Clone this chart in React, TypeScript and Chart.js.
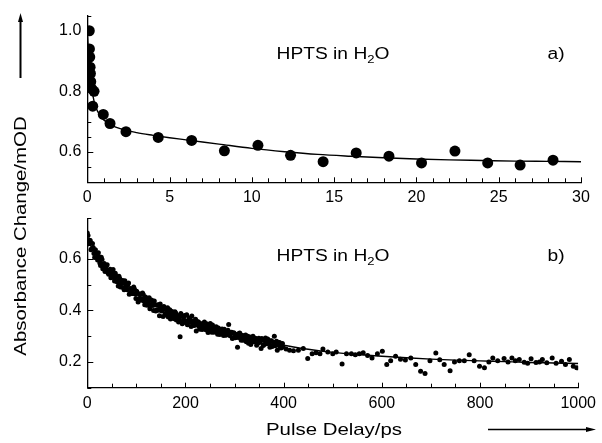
import React, { useEffect, useRef } from "react";
import { Chart, registerables } from "chart.js";

Chart.register(...registerables);

const FONT = '"Liberation Sans", Arial, Helvetica, sans-serif';

// ---- Panel a) : 0-30 ps ----
const topDelay = [0.12, 0.13, 0.15, 0.17, 0.19, 0.21, 0.26, 0.41, 0.33, 0.97, 1.38, 2.35, 4.31, 6.34, 8.33, 10.37, 12.35, 14.33, 16.34, 18.33, 20.31, 22.34, 24.33, 26.3, 28.3];
const topSignal = [1.0, 0.94, 0.913, 0.88, 0.859, 0.832, 0.809, 0.8, 0.751, 0.724, 0.694, 0.667, 0.648, 0.638, 0.604, 0.622, 0.589, 0.568, 0.597, 0.586, 0.564, 0.603, 0.564, 0.557, 0.573];
const topFitDelay = [0, 0.05, 0.1, 0.15, 0.2, 0.3, 0.4, 0.5, 0.75, 1, 1.5, 2, 3, 4, 5, 6, 7, 8, 10, 12, 14, 16, 18, 20, 22, 24, 26, 28, 30];
const topFitSignal = [1.0, 0.95, 0.91, 0.875, 0.845, 0.8, 0.77, 0.75, 0.722, 0.706, 0.688, 0.677, 0.664, 0.655, 0.647, 0.64, 0.633, 0.626, 0.612, 0.601, 0.592, 0.586, 0.581, 0.577, 0.574, 0.572, 0.57, 0.569, 0.568];
const topMajorX = [0, 5, 10, 15, 20, 25, 30];
const topMajorY = [0.6, 0.8, 1.0];

// ---- Panel b) : 0-1000 ps ----
const botDelay = [
  0, 3, 6, 9, 12, 15, 18, 21, 24, 27, 30, 33, 36, 39, 42, 45, 48, 51, 54, 57,
  60, 63, 66, 69, 72, 75, 78, 81, 84, 87, 90, 93, 96, 99, 102, 105, 108, 111, 114, 117,
  120, 123, 126, 129, 132, 135, 138, 141, 144, 147, 150, 153, 156, 159, 162, 165, 168, 171, 174, 177,
  180, 183, 186, 189, 192, 195, 198, 201, 204, 207, 210, 213, 216, 219, 222, 225, 228, 231, 234, 237,
  240, 243, 246, 249, 252, 255, 258, 261, 264, 267, 270, 273, 276, 279, 282, 285, 288, 291, 294, 297,
  300, 303, 306, 309, 312, 315, 318, 321, 324, 327, 330, 333, 336, 339, 342, 345, 348, 351, 354, 357,
  360, 363, 366, 369, 372, 375, 378, 381, 384, 387, 390, 393, 396, 399,
  405, 412, 420, 430, 440, 449, 458, 466, 474, 480, 490, 500, 507, 519, 528, 538, 546, 554, 562, 571,
  580, 591, 601, 610, 618, 628, 638, 648, 659, 669, 679, 688, 698, 710, 718, 727, 739, 748, 758, 768,
  778, 788, 799, 809, 818, 826, 836, 849, 857, 865, 872, 880, 890, 897, 904, 914, 921, 927, 936, 947,
  955, 966, 974, 982, 990, 997,
];
const botSignal = [
  0.7, 0.658, 0.671, 0.639, 0.644, 0.605, 0.621, 0.595, 0.608, 0.574, 0.597, 0.572, 0.551, 0.574, 0.546, 0.556, 0.526, 0.545, 0.527, 0.544,
  0.512, 0.494, 0.524, 0.503, 0.516, 0.48, 0.501, 0.48, 0.506, 0.466, 0.481, 0.465, 0.483, 0.446, 0.468, 0.444, 0.463, 0.445, 0.461, 0.422,
  0.444, 0.425, 0.449, 0.422, 0.437, 0.399, 0.422, 0.401, 0.422, 0.379, 0.414, 0.397, 0.415, 0.386, 0.398, 0.374, 0.402, 0.379, 0.391, 0.367,
  0.39, 0.373, 0.355, 0.298, 0.379, 0.359, 0.38, 0.358, 0.344, 0.37, 0.354, 0.378, 0.342, 0.356, 0.32, 0.356, 0.336, 0.348, 0.326, 0.35,
  0.333, 0.348, 0.314, 0.338, 0.322, 0.343, 0.315, 0.329, 0.317, 0.332, 0.306, 0.324, 0.313, 0.327, 0.303, 0.315, 0.345, 0.301, 0.315, 0.294,
  0.309, 0.297, 0.257, 0.31, 0.295, 0.303, 0.284, 0.297, 0.278, 0.3, 0.286, 0.268, 0.293, 0.278, 0.292, 0.265, 0.288, 0.275, 0.252, 0.287,
  0.268, 0.293, 0.271, 0.28, 0.257, 0.282, 0.263, 0.3, 0.267, 0.245, 0.274, 0.256, 0.269, 0.258,
  0.25, 0.245, 0.243, 0.245, 0.252, 0.213, 0.232, 0.236, 0.232, 0.25, 0.238, 0.232, 0.238, 0.192, 0.232, 0.232, 0.228, 0.232, 0.236, 0.225,
  0.215, 0.232, 0.241, 0.19, 0.205, 0.222, 0.21, 0.207, 0.215, 0.19, 0.164, 0.155, 0.205, 0.235, 0.208, 0.19, 0.166, 0.2, 0.205, 0.205,
  0.228, 0.205, 0.183, 0.177, 0.2, 0.215, 0.205, 0.213, 0.2, 0.215, 0.205, 0.209, 0.199, 0.195, 0.212, 0.198, 0.2, 0.209, 0.197, 0.215,
  0.195, 0.203, 0.19, 0.209, 0.183, 0.177,
];
// second interleaved scan (0-400 ps)
const botDelay2 = [
  1.5, 4.5, 7.5, 10.5, 13.5, 16.5, 19.5, 22.5, 25.5, 28.5, 31.5, 34.5, 37.5, 40.5, 43.5, 46.5, 49.5, 52.5, 55.5, 58.5,
  61.5, 64.5, 67.5, 70.5, 73.5, 76.5, 79.5, 82.5, 85.5, 88.5, 91.5, 94.5, 97.5, 100.5, 103.5, 106.5, 109.5, 112.5, 115.5, 118.5,
  121.5, 124.5, 127.5, 130.5, 133.5, 136.5, 139.5, 142.5, 145.5, 148.5, 151.5, 154.5, 157.5, 160.5, 163.5, 166.5, 169.5, 172.5, 175.5, 178.5,
  181.5, 184.5, 187.5, 190.5, 193.5, 196.5, 199.5, 202.5, 205.5, 208.5, 211.5, 214.5, 217.5, 220.5, 223.5, 226.5, 229.5, 232.5, 235.5, 238.5,
  241.5, 244.5, 247.5, 250.5, 253.5, 256.5, 259.5, 262.5, 265.5, 268.5, 271.5, 274.5, 277.5, 280.5, 283.5, 286.5, 289.5, 292.5, 295.5, 298.5,
  301.5, 304.5, 307.5, 310.5, 313.5, 316.5, 319.5, 322.5, 325.5, 328.5, 331.5, 334.5, 337.5, 340.5, 343.5, 346.5, 349.5, 352.5, 355.5, 358.5,
  361.5, 364.5, 367.5, 370.5, 373.5, 376.5, 379.5, 382.5, 385.5, 388.5, 391.5, 394.5, 397.5,
];
const botSignal2 = [
  0.69, 0.672, 0.635, 0.659, 0.62, 0.635, 0.605, 0.623, 0.584, 0.606, 0.561, 0.582, 0.563, 0.577, 0.54, 0.559, 0.537, 0.558, 0.514, 0.533,
  0.511, 0.532, 0.491, 0.511, 0.488, 0.515, 0.487, 0.498, 0.462, 0.485, 0.465, 0.491, 0.463, 0.474, 0.432, 0.461, 0.439, 0.467, 0.436, 0.452,
  0.42, 0.437, 0.406, 0.44, 0.419, 0.436, 0.397, 0.42, 0.4, 0.425, 0.398, 0.376, 0.407, 0.382, 0.41, 0.387, 0.366, 0.396, 0.375, 0.395,
  0.363, 0.38, 0.364, 0.388, 0.348, 0.373, 0.353, 0.383, 0.357, 0.369, 0.337, 0.359, 0.341, 0.365, 0.343, 0.355, 0.327, 0.347, 0.333, 0.355,
  0.325, 0.341, 0.329, 0.349, 0.315, 0.332, 0.318, 0.336, 0.307, 0.327, 0.315, 0.328, 0.302, 0.318, 0.305, 0.323, 0.306, 0.314, 0.291, 0.313,
  0.294, 0.306, 0.295, 0.312, 0.284, 0.301, 0.288, 0.304, 0.289, 0.272, 0.297, 0.279, 0.3, 0.281, 0.29, 0.271, 0.292, 0.279, 0.291, 0.264,
  0.283, 0.27, 0.289, 0.272, 0.281, 0.26, 0.276, 0.263, 0.28, 0.266, 0.275, 0.254, 0.271,
];
const botFitDelay = [0, 10, 20, 30, 40, 50, 60, 70, 80, 90, 100, 120, 140, 160, 180, 200, 220, 240, 260, 280, 300, 320, 340, 360, 380, 400, 450, 500, 550, 600, 650, 700, 750, 800, 850, 900, 950, 1000];
const botFitSignal = [0.68, 0.64, 0.61, 0.585, 0.562, 0.542, 0.524, 0.507, 0.492, 0.477, 0.463, 0.438, 0.416, 0.397, 0.38, 0.365, 0.351, 0.338, 0.326, 0.315, 0.305, 0.296, 0.288, 0.28, 0.272, 0.265, 0.249, 0.237, 0.229, 0.222, 0.216, 0.211, 0.207, 0.204, 0.201, 0.198, 0.196, 0.194];
const botMajorX = [0, 200, 400, 600, 800, 1000];
const botMajorY = [0.2, 0.4, 0.6];

const panelLabel = "HPTS in H";
const panelSub = "2";
const panelTail = "O";
const yTitle = "Absorbance Change/mOD";
const xTitle = "Pulse Delay/ps";

const W = 602;
const H = 443;
const PLOT_LEFT = 87.3;
const PLOT_RIGHT = 581;

const isMajor = (v: number, list: number[]) => list.some((m) => Math.abs(m - v) < 1e-6);

const insideTicks = {
  id: "insideTicks",
  afterDraw(chart: any) {
    const { ctx, chartArea } = chart;
    const xs = chart.scales.x;
    const ys = chart.scales.y;
    ctx.save();
    ctx.strokeStyle = "#000";
    ctx.lineWidth = 1;
    xs.ticks.forEach((t: any) => {
      const px = Math.round(xs.getPixelForValue(t.value)) + 0.5;
      const len = t.label !== "" ? 5 : 4;
      ctx.beginPath();
      ctx.moveTo(px, chartArea.bottom);
      ctx.lineTo(px, chartArea.bottom - len);
      ctx.stroke();
    });
    ys.ticks.forEach((t: any) => {
      const py = Math.round(ys.getPixelForValue(t.value)) + 0.5;
      const len = t.label !== "" ? 6 : 4;
      ctx.beginPath();
      ctx.moveTo(chartArea.left, py);
      ctx.lineTo(chartArea.left + len, py);
      ctx.stroke();
    });
    ctx.restore();
  },
};

function drawStretched(ctx: CanvasRenderingContext2D, text: string, x: number, y: number, size: number, sx: number) {
  ctx.save();
  ctx.translate(x, y);
  ctx.scale(sx, 1);
  ctx.font = `${size}px ${FONT}`;
  ctx.fillText(text, 0, 0);
  ctx.restore();
}

function drawPanelText(ctx: CanvasRenderingContext2D, cx: number, baseY: number, tag: string, tagX: number) {
  const size = 16;
  const sx = 1.2;
  const sub = size * 0.68;
  ctx.save();
  ctx.fillStyle = "#000";
  ctx.textAlign = "left";
  ctx.textBaseline = "alphabetic";
  ctx.font = `${size}px ${FONT}`;
  const wa = ctx.measureText(panelLabel).width * sx;
  const wc = ctx.measureText(panelTail).width * sx;
  ctx.font = `${sub}px ${FONT}`;
  const wb = ctx.measureText(panelSub).width * sx;
  let x = cx - (wa + wb + wc) / 2;
  drawStretched(ctx, panelLabel, x, baseY, size, sx);
  x += wa;
  drawStretched(ctx, panelSub, x, baseY + 4, sub, sx);
  x += wb;
  drawStretched(ctx, panelTail, x, baseY, size, sx);
  ctx.textAlign = "center";
  drawStretched(ctx, tag, tagX, baseY, size, sx);
  ctx.restore();
}

function makeOptions(xMin: number, xMax: number, xStep: number, xMajor: number[], yMin: number, yMax: number, yStep: number, yMajor: number[], padTop: number, plotBottom: number) {
  const xAxisH = 30;
  return {
    animation: false as const,
    responsive: false,
    events: [],
    layout: {
      padding: { left: 0, right: W - PLOT_RIGHT, top: padTop, bottom: H - plotBottom - xAxisH },
    },
    plugins: { legend: { display: false }, tooltip: { enabled: false }, title: { display: false } },
    scales: {
      x: {
        type: "linear" as const,
        min: xMin,
        max: xMax,
        afterFit: (s: any) => { s.height = xAxisH; },
        grid: { display: false, drawTicks: false },
        border: { display: true, color: "#000", width: 1.3 },
        ticks: {
          stepSize: xStep,
          autoSkip: false,
          maxRotation: 0,
          padding: 6,
          color: "#000",
          font: { family: FONT, size: 16 },
          callback: (v: any) => (isMajor(Number(v), xMajor) ? String(Math.round(Number(v))) : ""),
        },
      },
      y: {
        type: "linear" as const,
        min: yMin,
        max: yMax,
        afterFit: (s: any) => { s.width = PLOT_LEFT; },
        grid: { display: false, drawTicks: false },
        border: { display: true, color: "#000", width: 1.3 },
        ticks: {
          stepSize: yStep,
          autoSkip: false,
          padding: 6,
          color: "#000",
          font: { family: FONT, size: 16 },
          callback: (v: any) => (isMajor(Number(v), yMajor) ? Number(v).toFixed(1) : ""),
        },
      },
    },
  };
}

export default function App() {
  const topRef = useRef<HTMLCanvasElement | null>(null);
  const botRef = useRef<HTMLCanvasElement | null>(null);

  useEffect(() => {
    const topCanvas = topRef.current!;
    const botCanvas = botRef.current!;

    const topDecor = {
      id: "topDecor",
      afterDraw(chart: any) {
        const ctx: CanvasRenderingContext2D = chart.ctx;
        drawPanelText(ctx, 333, 59, "a)", 556);
        ctx.save();
        ctx.fillStyle = "#000";
        ctx.translate(21, 236);
        ctx.rotate(-Math.PI / 2);
        ctx.scale(1.2, 1);
        ctx.font = `17px ${FONT}`;
        ctx.textAlign = "center";
        ctx.textBaseline = "middle";
        ctx.fillText(yTitle, 0, 0);
        ctx.restore();
        ctx.save();
        ctx.strokeStyle = "#000";
        ctx.fillStyle = "#000";
        ctx.lineWidth = 2;
        ctx.beginPath();
        ctx.moveTo(20.5, 78);
        ctx.lineTo(20.5, 20);
        ctx.stroke();
        ctx.beginPath();
        ctx.moveTo(20.5, 13);
        ctx.lineTo(18, 22);
        ctx.lineTo(23, 22);
        ctx.closePath();
        ctx.fill();
        ctx.restore();
      },
    };

    const botDecor = {
      id: "botDecor",
      afterDraw(chart: any) {
        const ctx: CanvasRenderingContext2D = chart.ctx;
        drawPanelText(ctx, 333, 261, "b)", 556);
        ctx.save();
        ctx.fillStyle = "#000";
        ctx.textAlign = "center";
        ctx.textBaseline = "middle";
        ctx.translate(334, 430);
        ctx.scale(1.2, 1);
        ctx.font = `17px ${FONT}`;
        ctx.fillText(xTitle, 0, 0);
        ctx.restore();
        ctx.save();
        ctx.strokeStyle = "#000";
        ctx.fillStyle = "#000";
        ctx.lineWidth = 1.5;
        ctx.beginPath();
        ctx.moveTo(488, 429.5);
        ctx.lineTo(588, 429.5);
        ctx.stroke();
        ctx.beginPath();
        ctx.moveTo(596, 429.5);
        ctx.lineTo(586, 427);
        ctx.lineTo(586, 432);
        ctx.closePath();
        ctx.fill();
        ctx.restore();
      },
    };

    const topChart = new Chart(topCanvas, {
      type: "scatter",
      data: {
        datasets: [
          {
            data: topFitDelay.map((x, i) => ({ x, y: topFitSignal[i] })),
            showLine: true,
            borderColor: "#000",
            borderWidth: 1.4,
            pointRadius: 0,
            cubicInterpolationMode: "monotone",
          } as any,
          {
            data: topDelay.map((x, i) => ({ x, y: topSignal[i] })),
            backgroundColor: "#000",
            borderColor: "#000",
            borderWidth: 0,
            pointRadius: 5.5,
          },
        ],
      },
      options: makeOptions(0, 30, 1, topMajorX, 0.5, 1.05, 0.05, topMajorY, 13.3, 182.3) as any,
      plugins: [insideTicks, topDecor],
    });

    const botPoints = [
      ...botDelay.map((x, i) => ({ x, y: botSignal[i] })),
      ...botDelay2.map((x, i) => ({ x, y: botSignal2[i] })),
    ];

    const botChart = new Chart(botCanvas, {
      type: "scatter",
      data: {
        datasets: [
          {
            data: botFitDelay.map((x, i) => ({ x, y: botFitSignal[i] })),
            showLine: true,
            borderColor: "#000",
            borderWidth: 1.4,
            pointRadius: 0,
            cubicInterpolationMode: "monotone",
          } as any,
          {
            data: botPoints,
            backgroundColor: "#000",
            borderColor: "#000",
            borderWidth: 0,
            pointRadius: 2.5,
          },
        ],
      },
      options: makeOptions(0, 1000, 50, botMajorX, 0.1, 0.757, 0.1, botMajorY, 218.3, 387.7) as any,
      plugins: [insideTicks, botDecor],
    });

    return () => {
      topChart.destroy();
      botChart.destroy();
    };
  }, []);

  return (
    <div style={{ position: "fixed", left: 0, top: 0, width: W, height: H, background: "#fff" }}>
      <canvas ref={topRef} width={W} height={H} style={{ position: "absolute", left: 0, top: 0, width: W, height: H }} />
      <canvas ref={botRef} width={W} height={H} style={{ position: "absolute", left: 0, top: 0, width: W, height: H }} />
    </div>
  );
}
